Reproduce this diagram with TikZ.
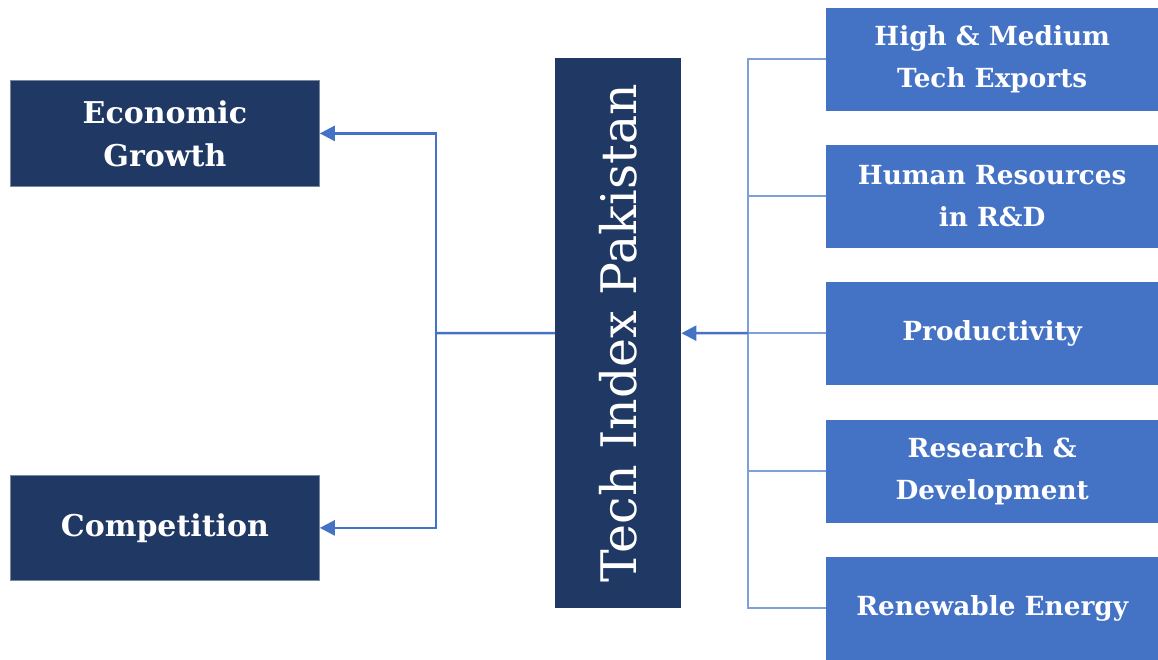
\documentclass[tikz,border=0pt]{standalone}
\usepackage{fontspec}
\setmainfont{DejaVu Serif}
\usetikzlibrary{arrows.meta}
\definecolor{navy}{HTML}{1F3864}
\definecolor{midblue}{HTML}{4472C4}
\definecolor{lightline}{HTML}{7F9FDA}
\tikzset{
  darkbox/.style={rectangle, fill=navy, draw=navy!60!white, line width=0.8pt, inner sep=0pt, text=white, font=\bfseries\fontsize{30}{43}\selectfont, align=center},
  bluebox/.style={rectangle, fill=midblue, inner sep=0pt, text=white, font=\bfseries\fontsize{26.3}{42}\selectfont, align=center, minimum width=332pt, minimum height=103pt},
  arr/.style={draw=midblue, line width=2.5pt, -{Triangle[length=15pt,width=15pt]}},
  thin/.style={draw=lightline, line width=1.6pt}
}
\begin{document}
\begin{tikzpicture}[x=1pt,y=-1pt]
\useasboundingbox[fill=white] (0,0) rectangle (1158,659);
% left boxes
\node[darkbox, minimum width=309pt, minimum height=106pt, anchor=north west] (eg) at (10,80) {Economic\\Growth};
\node[darkbox, minimum width=309pt, minimum height=105pt, anchor=north west] (cp) at (10,475) {Competition};
% centre box
\node[rectangle, fill=navy, inner sep=0pt, minimum width=126pt, minimum height=550pt, anchor=north west] (ti) at (555,58) {};
\node[rotate=90, text=white, font=\fontsize{49}{50}\selectfont] (tit) at (ti.center) {Tech Index Pakistan};
% right boxes
\node[bluebox, anchor=west] (r1) at (826,59) {High \& Medium\\Tech Exports};
\node[bluebox, anchor=west] (r2) at (826,196) {Human Resources\\in R\&D};
\node[bluebox, anchor=west] (r3) at (826,333) {Productivity};
\node[bluebox, anchor=west] (r4) at (826,471) {Research \&\\Development};
\node[bluebox, anchor=west] (r5) at (826,608) {Renewable Energy};
% right bus
\coordinate (bus) at (748,333);
\draw[thin] (r1.west) -- (r1.west -| bus) -- (r5.west -| bus) -- (r5.west);
\draw[thin] (r2.west) -- (r2.west -| bus);
\draw[thin] (r3.west) -- (bus);
\draw[thin] (r4.west) -- (r4.west -| bus);
\draw[arr] (bus) -- (ti.east);
% left connectors
\coordinate (lj) at (436,333);
\draw[draw=midblue, line width=2.5pt] (ti.west) -- (lj);
\draw[arr] (lj) |- (eg.east);
\draw[arr] (lj) |- (cp.east);
\end{tikzpicture}
\end{document}
